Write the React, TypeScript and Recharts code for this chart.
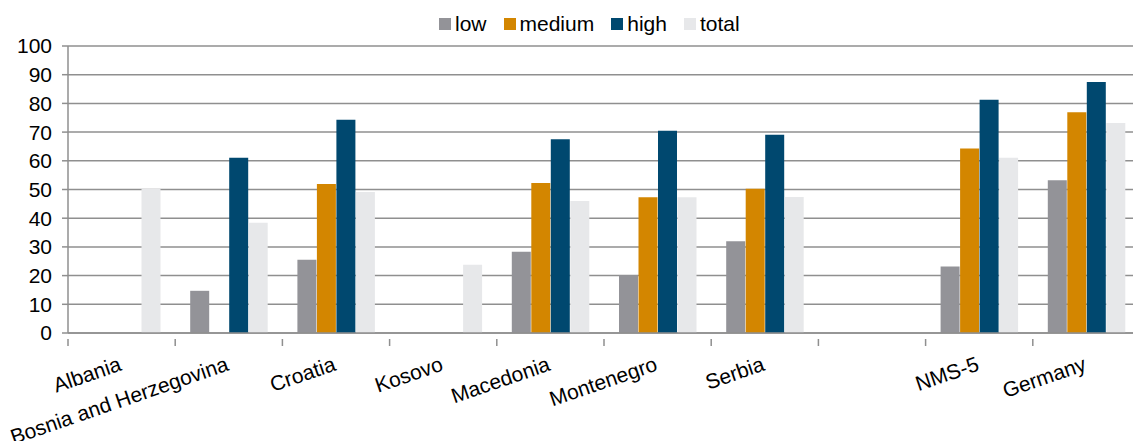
import { BarChart, Bar, XAxis, YAxis, CartesianGrid } from 'recharts'

const categories = [
  'Albania',
  'Bosnia and Herzegovina',
  'Croatia',
  'Kosovo',
  'Macedonia',
  'Montenegro',
  'Serbia',
  '',
  'NMS-5',
  'Germany',
]

const low = [null, 14.7, 25.5, null, 28.3, 20.1, 32, null, 23.2, 53.2]
const medium = [null, null, 51.9, null, 52.3, 47.3, 50.3, null, 64.3, 76.9]
const high = [null, 61.1, 74.3, null, 67.5, 70.5, 69.1, null, 81.3, 87.5]
const total = [50.3, 38.4, 49.1, 23.8, 46, 47.3, 47.4, null, 61.1, 73.2]

const yTicks = [0, 10, 20, 30, 40, 50, 60, 70, 80, 90, 100]

const series = [
  { key: 'low', color: '#939398' },
  { key: 'medium', color: '#d38600' },
  { key: 'high', color: '#00486f' },
  { key: 'total', color: '#e7e8ea' },
]

const data = categories.map((name, i) => ({
  name,
  low: low[i],
  medium: medium[i],
  high: high[i],
  total: total[i],
}))

const FONT = '"Liberation Sans", Arial, sans-serif'
const GRID = '#8f8f8f'
const BAND = 1072 / categories.length

function CategoryTick(props: any) {
  const { x, y, payload } = props
  const tx = x + 1
  const ty = y + 29
  return (
    <g>
      <line x1={x - BAND / 2} x2={x - BAND / 2} y1={y - 2} y2={y + 5} stroke={GRID} strokeWidth={1.5} />
      <text
        x={tx}
        y={ty}
        textAnchor="end"
        transform={`rotate(-19, ${tx}, ${ty})`}
        fontSize={21}
        fontFamily={FONT}
        fill="#000"
      >
        {payload.value}
      </text>
    </g>
  )
}

export default function App() {
  return (
    <div
      style={{
        position: 'absolute',
        left: 0,
        top: 0,
        width: 1133,
        height: 441,
        overflow: 'hidden',
        background: '#fff',
        fontFamily: FONT,
      }}
    >
      <div
        style={{
          position: 'absolute',
          top: 12,
          left: 439,
          display: 'flex',
          alignItems: 'center',
          fontSize: 21,
          color: '#000',
          whiteSpace: 'nowrap',
        }}
      >
        {series.map((s) => (
          <div key={s.key} style={{ display: 'flex', alignItems: 'center', marginRight: 17 }}>
            <span style={{ width: 12, height: 12, background: s.color, marginRight: 4 }} />
            <span>{s.key}</span>
          </div>
        ))}
      </div>
      <BarChart
        width={1147}
        height={441}
        data={data}
        margin={{ top: 46, right: 7, bottom: 8, left: 8 }}
        barSize={19}
        barGap={0.5}
      >
        <CartesianGrid vertical={false} stroke={GRID} strokeWidth={1.5} />
        <XAxis
          dataKey="name"
          interval={0}
          height={100}
          tickLine={false}
          axisLine={{ stroke: GRID, strokeWidth: 1.5 }}
          tick={<CategoryTick />}
        />
        <YAxis
          domain={[0, 100]}
          ticks={yTicks}
          interval={0}
          width={60}
          tickSize={6}
          tickMargin={10}
          tickLine={{ stroke: GRID, strokeWidth: 1.5 }}
          axisLine={{ stroke: GRID, strokeWidth: 1.5 }}
          tick={{ fontSize: 21, fontFamily: FONT, fill: '#000' }}
        />
        {series.map((s) => (
          <Bar key={s.key} dataKey={s.key} fill={s.color} isAnimationActive={false} />
        ))}
      </BarChart>
    </div>
  )
}
